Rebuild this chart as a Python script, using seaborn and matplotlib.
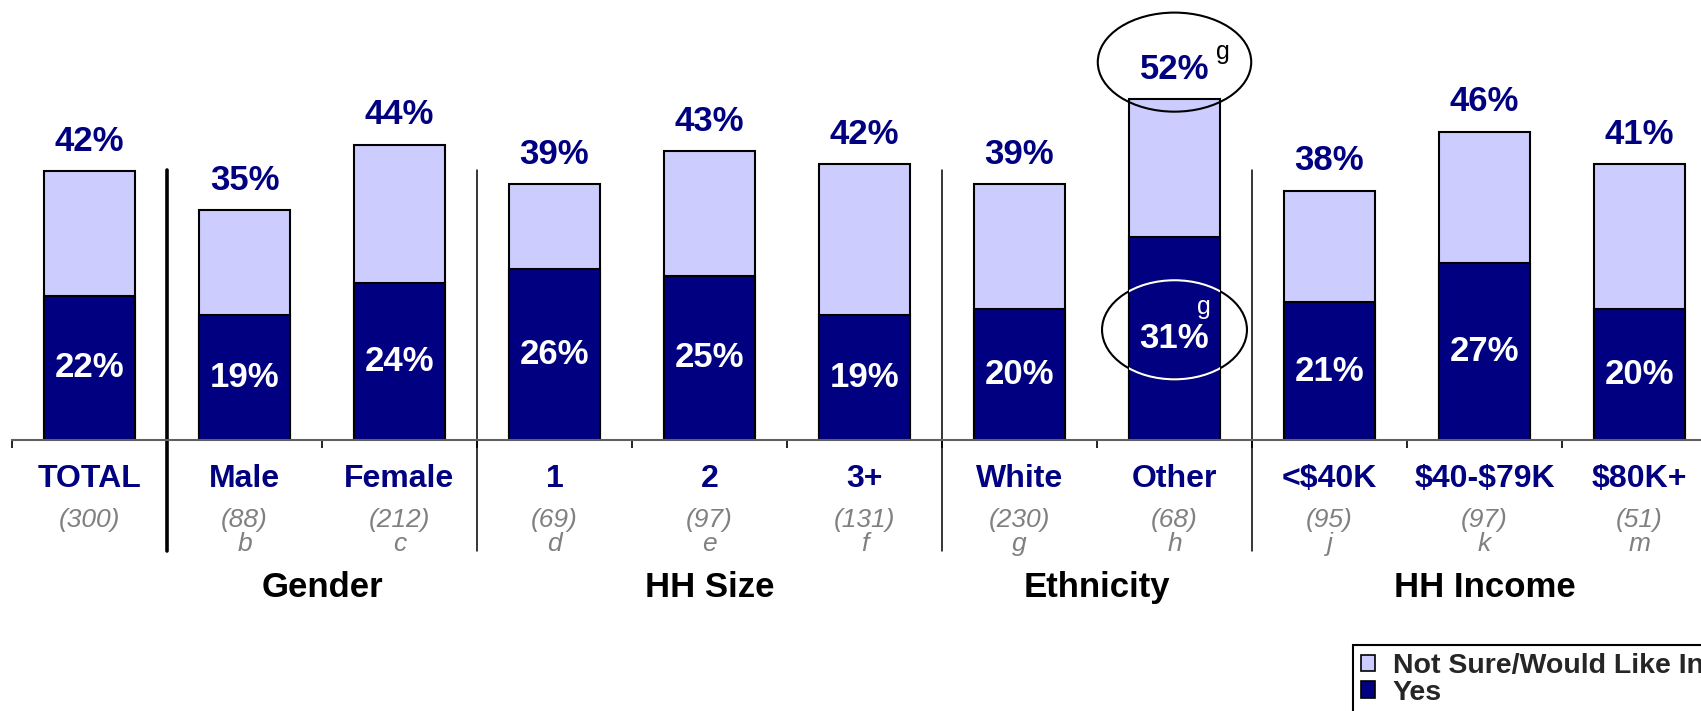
import numpy as np
import pandas as pd
import matplotlib.pyplot as plt
import seaborn as sns
from matplotlib.patches import Ellipse, Patch

# dados do grafico
categorias = ["TOTAL", "Male", "Female", "1", "2", "3+", "White", "Other", "<$40K", "$40-$79K", "$80K+"]
sim = [22, 19, 24, 26, 25, 19, 20, 31, 21, 27, 20]
nao_sei = [19, 16, 21, 13, 19, 23, 19, 21, 17, 20, 22]
total_rotulo = [42, 35, 44, 39, 43, 42, 39, 52, 38, 46, 41]
amostra = [300, 88, 212, 69, 97, 131, 230, 68, 95, 97, 51]
letras = ["", "b", "c", "d", "e", "f", "g", "h", "j", "k", "m"]
grupos = ["Gender", "HH Size", "Ethnicity", "HH Income"]
grupo_inicio = [1, 3, 6, 8]
grupo_fim = [2, 5, 7, 10]
serie_nomes = ["Not Sure/Would Like Info", "Yes"]

azul = "#000080"
lilas = "#CCCCFF"
cinza = "#808080"

sns.set_style("white")
plt.rcParams["font.family"] = ["Liberation Sans", "DejaVu Sans"]

df = pd.DataFrame({"categoria": categorias, "sim": sim, "nao_sei": nao_sei})
df["topo"] = df["sim"] + df["nao_sei"]

fig = plt.figure(figsize=(17.01, 7.11), dpi=100)
ax = fig.add_axes([12 / 1701, 271 / 711, 1705 / 1701, 440 / 711])

sns.barplot(data=df, x="categoria", y="topo", order=categorias, color=lilas,
            edgecolor="black", linewidth=1.5, width=0.59, saturation=1, errorbar=None, ax=ax)
sns.barplot(data=df, x="categoria", y="sim", order=categorias, color=azul,
            edgecolor="black", linewidth=1.5, width=0.59, saturation=1, errorbar=None, ax=ax)

ax.set_xlim(-0.5, 10.5)
ax.set_ylim(0, 67.07)
ax.set_xlabel("")
ax.set_ylabel("")
ax.set_yticks([])
ax.set_xticks(np.arange(-0.5, 11, 1))
ax.set_xticklabels([])
ax.tick_params(axis="x", direction="out", length=6, width=1.2, color="black", bottom=True)
for lado in ["top", "right", "left"]:
    ax.spines[lado].set_visible(False)
ax.spines["bottom"].set_color("#606060")
ax.spines["bottom"].set_linewidth(1.5)

def esc(s):
    return s.replace("$", r"\$")

for i, cat in enumerate(categorias):
    ax.annotate(f"{total_rotulo[i]}%", (i, df["topo"][i]), xytext=(0, 21.5), textcoords="offset points",
                ha="center", va="center", fontsize=25, fontweight="bold", color=azul)
    ax.text(i, sim[i] / 2, f"{sim[i]}%", ha="center", va="center",
            fontsize=25, fontweight="bold", color="white")
    ax.text(i, -5.9, esc(cat), ha="center", va="center", fontsize=23,
            fontweight="bold", color=azul, clip_on=False)
    ax.text(i, -12.2, f"({amostra[i]})", ha="center", va="center", fontsize=19,
            style="italic", color=cinza, clip_on=False)
    if letras[i]:
        ax.text(i, -15.8, letras[i], ha="center", va="center", fontsize=19,
                style="italic", color=cinza, clip_on=False)

for nome, ini, fim in zip(grupos, grupo_inicio, grupo_fim):
    ax.text((ini + fim) / 2, -22.5, nome, ha="center", va="center", fontsize=25,
            fontweight="bold", color="black", clip_on=False)
    ax.plot([ini - 0.5, ini - 0.5], [-16.9, 41.2], color="black",
            lw=2.6 if ini == 1 else 1.1, clip_on=False)

# destaques de significancia em "Other"
idx = categorias.index("Other")
ax.add_patch(Ellipse((idx, 57.6), 0.99, 15.1, fill=False, edgecolor="black", lw=1.5, clip_on=False))
ax.text(idx + 0.31, 59.2, "g", ha="center", va="center", fontsize=18, color="black")
ax.add_patch(Ellipse((idx, 16.8), 0.935, 15.1, fill=False, edgecolor="black", lw=1.5))
barra = ax.patches[len(categorias) + idx]
branca = Ellipse((idx, 16.8), 0.935, 15.1, fill=False, edgecolor="white", lw=1.5)
ax.add_patch(branca)
branca.set_clip_path(barra)
ax.text(idx + 0.19, 20.2, "g", ha="center", va="center", fontsize=18, color="white")

handles = [Patch(facecolor=lilas, edgecolor="black", lw=1.2),
           Patch(facecolor=azul, edgecolor="black", lw=1.2)]
leg = fig.legend(handles, serie_nomes, loc="upper left", bbox_to_anchor=(1353 / 1701, 1 - 645 / 711),
                 borderaxespad=0, fancybox=False, edgecolor="black", framealpha=1,
                 prop={"size": 20.5, "weight": "bold"}, handlelength=0.5, handleheight=0.5,
                 handletextpad=0.62, labelspacing=0.02, borderpad=0.28)
leg.get_frame().set_linewidth(1.5)

plt.savefig("out.png", dpi=100)
